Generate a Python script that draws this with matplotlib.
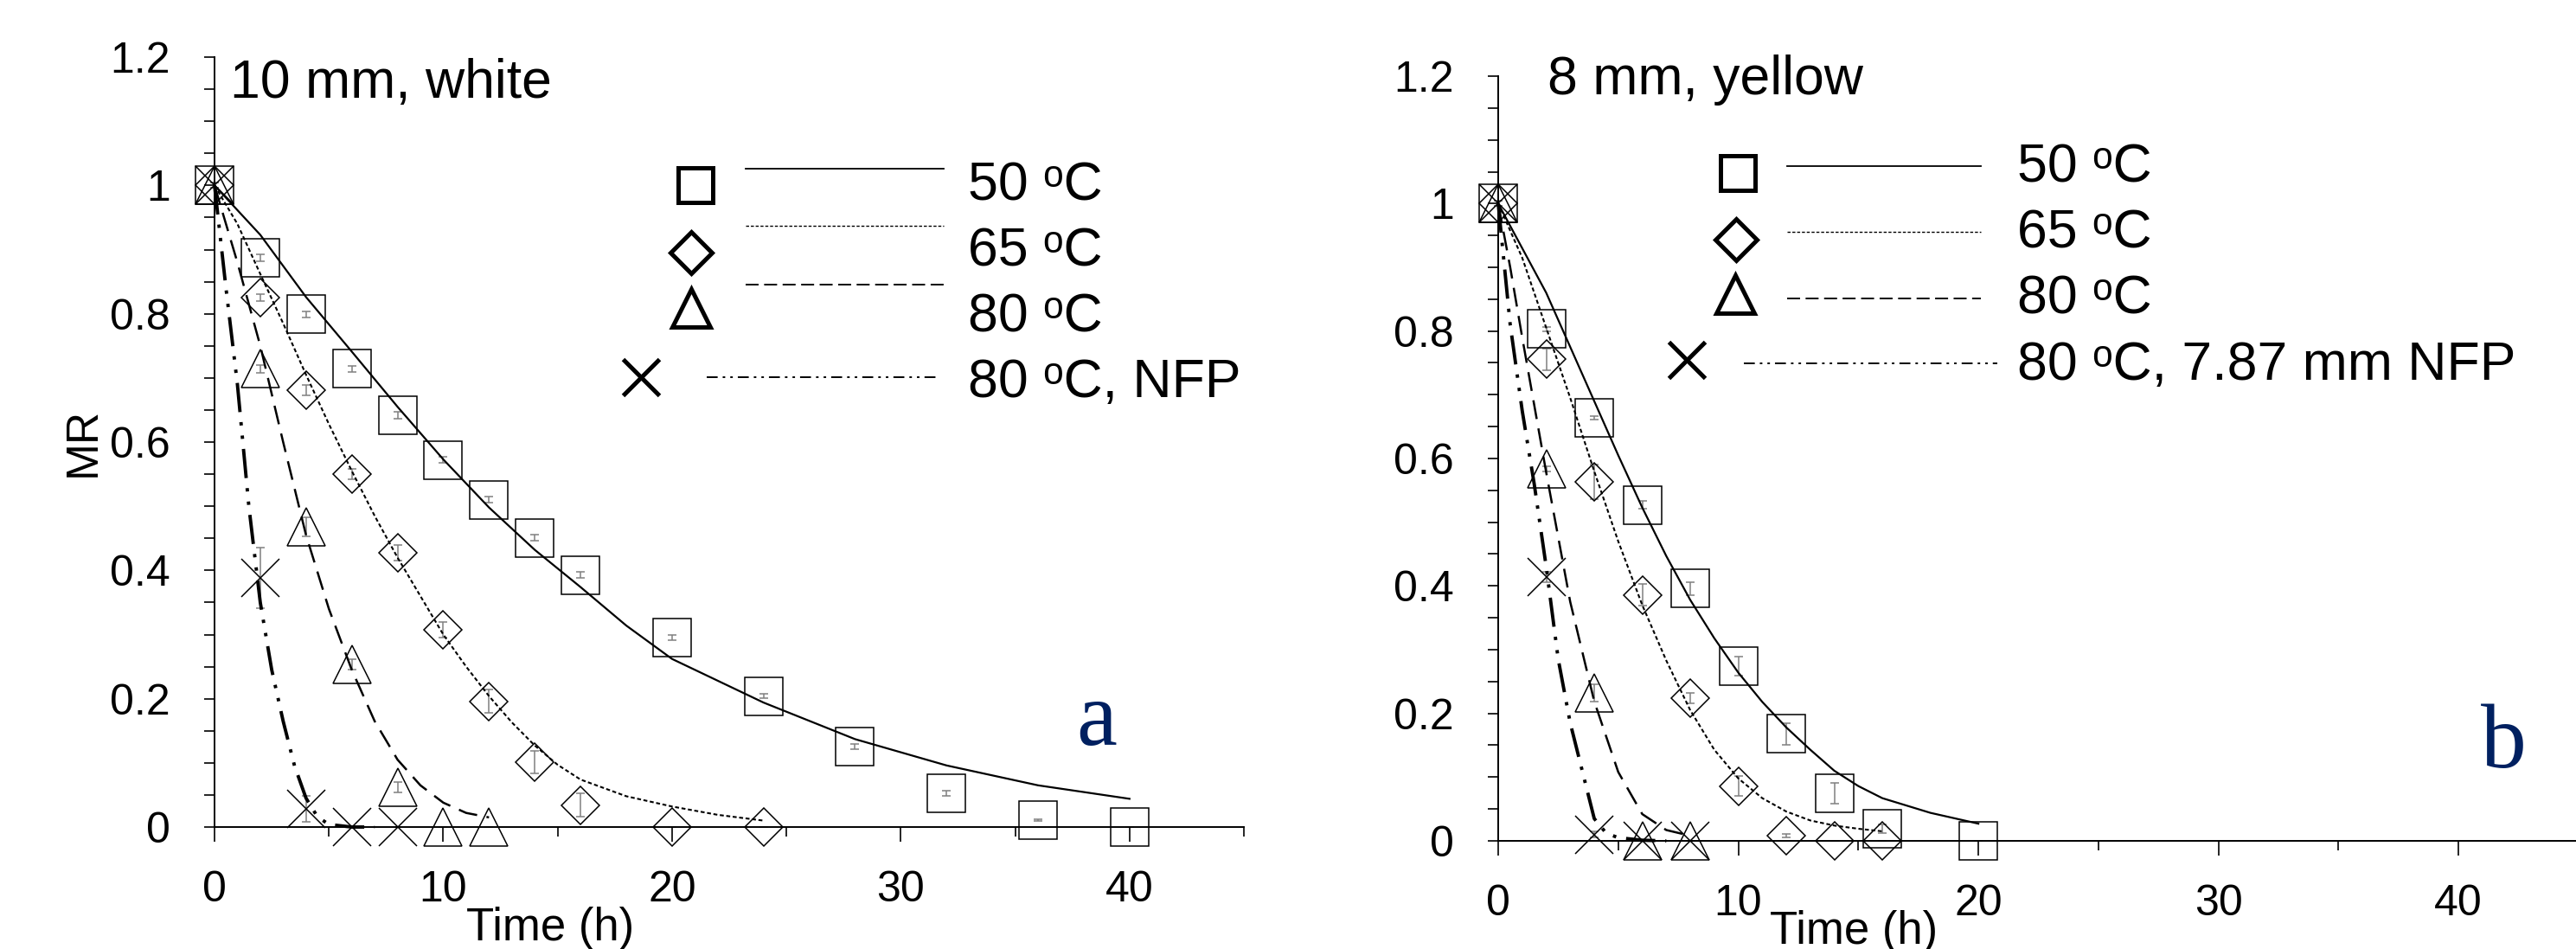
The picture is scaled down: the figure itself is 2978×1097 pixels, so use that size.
import matplotlib
matplotlib.use('Agg')
import matplotlib.pyplot as plt
from matplotlib.lines import Line2D
from matplotlib.legend_handler import HandlerBase
from matplotlib.ticker import MultipleLocator, FuncFormatter

plt.rcParams['font.family'] = ['Liberation Sans', 'DejaVu Sans']

# ---- panel a: 10 mm, white ----
TIME_A_50 = [0, 2, 4, 6, 8, 10, 12, 14, 16, 20, 24, 28, 32, 36, 40]
MR_A_50 = [1.0, 0.887, 0.799, 0.714, 0.642, 0.572, 0.510, 0.451, 0.393, 0.295, 0.204, 0.125, 0.053, 0.011, 0.0]
ERR_A_50 = [0.004, 0.005, 0.005, 0.005, 0.005, 0.005, 0.005, 0.005, 0.005, 0.004, 0.003, 0.004, 0.004, 0.001, 0.0]

TIME_A_65 = [0, 2, 4, 6, 8, 10, 12, 14, 16, 20, 24]
MR_A_65 = [1.0, 0.825, 0.681, 0.550, 0.427, 0.307, 0.196, 0.101, 0.034, 0.0, 0.0]
ERR_A_65 = [0.004, 0.005, 0.008, 0.008, 0.012, 0.012, 0.018, 0.018, 0.018, 0.0, 0.0]

TIME_A_80 = [0, 2, 4, 6, 8, 10, 12]
MR_A_80 = [1.0, 0.714, 0.468, 0.253, 0.062, 0.0, 0.0]
ERR_A_80 = [0.004, 0.006, 0.015, 0.008, 0.008, 0.0, 0.0]

TIME_A_NFP = [0, 2, 4, 6, 8]
MR_A_NFP = [1.0, 0.388, 0.028, 0.0, 0.0]
ERR_A_NFP = [0.004, 0.047, 0.02, 0.0, 0.0]

FIT_TIME_A_50 = [0, 2, 4, 6, 8, 10, 12, 14, 16, 18, 20, 24, 28, 32, 36, 40]
FIT_A_50 = [1.0, 0.923, 0.826, 0.741, 0.655, 0.573, 0.498, 0.432, 0.374, 0.314, 0.262, 0.194, 0.137, 0.096, 0.065, 0.044]
FIT_TIME_A_65 = [0, 1, 2, 3, 4, 5, 6, 7, 8, 9, 10, 11, 12, 13, 14, 15, 16, 18, 20, 22, 24]
FIT_A_65 = [1.0, 0.94, 0.862, 0.785, 0.705, 0.628, 0.555, 0.485, 0.42, 0.36, 0.30, 0.25, 0.204,
            0.163, 0.127, 0.097, 0.074, 0.048, 0.032, 0.019, 0.010]
FIT_TIME_A_80 = [0, 1, 2, 3, 4, 5, 6, 7, 8, 9, 10, 11, 12]
FIT_A_80 = [1.0, 0.88, 0.75, 0.60, 0.455, 0.34, 0.245, 0.165, 0.105, 0.065, 0.038, 0.022, 0.015]
FIT_TIME_A_NFP = [0, 0.25, 0.5, 1, 1.5, 2, 2.5, 3, 3.5, 4, 4.5, 5, 6, 7]
FIT_A_NFP = [1.0, 0.92, 0.84, 0.69, 0.50, 0.35, 0.245, 0.165, 0.095, 0.045, 0.016, 0.004, 0.0, 0.0]

# ---- panel b: 8 mm, yellow ----
TIME_B_50 = [0, 2, 4, 6, 8, 10, 12, 14, 16, 20]
MR_B_50 = [1.0, 0.803, 0.664, 0.527, 0.396, 0.274, 0.168, 0.075, 0.019, 0.0]
ERR_B_50 = [0.004, 0.004, 0.003, 0.006, 0.01, 0.015, 0.017, 0.016, 0.007, 0.0]

TIME_B_65 = [0, 2, 4, 6, 8, 10, 12, 14, 16]
MR_B_65 = [1.0, 0.756, 0.563, 0.386, 0.224, 0.086, 0.008, 0.0, 0.0]
ERR_B_65 = [0.004, 0.017, 0.027, 0.017, 0.008, 0.016, 0.003, 0.0, 0.0]

TIME_B_80 = [0, 2, 4, 6, 8]
MR_B_80 = [1.0, 0.584, 0.232, 0.0, 0.0]
ERR_B_80 = [0.004, 0.004, 0.014, 0.0, 0.0]

TIME_B_NFP = [0, 2, 4, 6, 8]
MR_B_NFP = [1.0, 0.414, 0.010, 0.0, 0.0]
ERR_B_NFP = [0.004, 0.008, 0.005, 0.0, 0.0]

FIT_TIME_B_50 = [0, 1, 2, 3, 4, 5, 6, 7, 8, 9, 10, 11, 12, 13, 14, 15, 16, 18, 20]
FIT_B_50 = [1.0, 0.93, 0.86, 0.775, 0.69, 0.605, 0.523, 0.447, 0.378, 0.318, 0.264, 0.218, 0.178,
            0.143, 0.110, 0.086, 0.067, 0.044, 0.027]
FIT_TIME_B_65 = [0, 1, 2, 3, 4, 5, 6, 7, 8, 9, 10, 11, 12, 13, 14, 15, 16]
FIT_B_65 = [1.0, 0.915, 0.805, 0.695, 0.58, 0.47, 0.37, 0.283, 0.205, 0.143, 0.098, 0.067, 0.046,
            0.032, 0.024, 0.019, 0.015]
FIT_TIME_B_80 = [0, 0.5, 1, 2, 3, 4, 5, 6, 7, 8]
FIT_B_80 = [1.0, 0.90, 0.79, 0.578, 0.375, 0.219, 0.108, 0.042, 0.017, 0.008]
FIT_TIME_B_NFP = [0, 0.5, 1, 1.5, 2, 2.5, 3, 3.5, 4, 4.5, 5, 6, 7]
FIT_B_NFP = [1.0, 0.81, 0.675, 0.56, 0.43, 0.285, 0.185, 0.11, 0.035, 0.012, 0.005, 0.001, 0.0]

LABELS_A = ['50 \u1d52C', '65 \u1d52C', '80 \u1d52C', '80 \u1d52C, NFP']
LABELS_B = ['50 \u1d52C', '65 \u1d52C', '80 \u1d52C', '80 \u1d52C, 7.87 mm NFP']

# marker, marker size in the plot, in the legend
MARKERS = [('s', 32, 28.8), ('D', 22.5, 24.4), ('^', 32, 31), ('x', 32, 30)]
FIT_STYLES = [dict(ls='-', lw=1.6),
              dict(ls=(0, (2.2, 1.4)), lw=1.5),
              dict(ls=(0, (8.8, 4.4)), lw=1.8),
              dict(ls=(0, (8.7, 3, 1, 3, 1, 3)), lw=2.8)]
LEG_STYLES = [dict(ls='-', lw=1.3),
              dict(ls=(0, (2.5, 1.5)), lw=1.0),
              dict(ls=(0, (7.7, 3.3)), lw=1.4),
              dict(ls=(0, (6.5, 3, 1.5, 3, 1.5, 3)), lw=1.4)]


class MarkerThenLine(HandlerBase):
    """marker on the left, line sample on the right (positions in font-size units)"""

    def __init__(self, marker_x, line_x0, line_x1, marker_dy=0.0, line_dy=0.0):
        super().__init__()
        self.marker_x = marker_x
        self.line_x0 = line_x0
        self.line_x1 = line_x1
        self.marker_dy = marker_dy
        self.line_dy = line_dy

    def create_artists(self, legend, orig_handle, xdescent, ydescent, width, height, fontsize, trans):
        marker_proxy, line_proxy = orig_handle
        x0 = -xdescent
        yc = 0.36 * fontsize
        seg = Line2D([x0 + self.line_x0 * fontsize, x0 + self.line_x1 * fontsize],
                     [yc - self.line_dy * fontsize] * 2)
        self.update_prop(seg, line_proxy, legend)
        seg.set_transform(trans)
        mark = Line2D([x0 + self.marker_x * fontsize], [yc - self.marker_dy * fontsize])
        self.update_prop(mark, marker_proxy, legend)
        mark.set_transform(trans)
        return [seg, mark]


def style_axes(ax):
    ax.set_xlim(0, 45)
    ax.set_ylim(0, 1.2)
    ax.spines['top'].set_visible(False)
    ax.spines['right'].set_visible(False)
    ax.spines['left'].set_linewidth(1.4)
    ax.spines['bottom'].set_linewidth(1.4)
    ax.xaxis.set_major_locator(MultipleLocator(10))
    ax.xaxis.set_minor_locator(MultipleLocator(5))
    ax.yaxis.set_major_locator(MultipleLocator(0.2))
    ax.yaxis.set_minor_locator(MultipleLocator(0.05))
    ax.yaxis.set_major_formatter(FuncFormatter(lambda v, p: f'{v:g}'))
    ax.tick_params(axis='y', which='both', direction='out', length=9, width=1.2, pad=28, labelsize=36)
    ax.tick_params(axis='x', which='major', direction='out', length=12, width=1.2, pad=24, labelsize=36)
    ax.tick_params(axis='x', which='minor', direction='out', length=8, width=1.2)


def draw_panel(ax, data, fits):
    for (t, mr, err), (ft, fv), (mk, ms, _), fs in zip(data, fits, MARKERS, FIT_STYLES):
        ax.plot(ft, fv, color='black', clip_on=False, zorder=3, **fs)
        ax.errorbar(t, mr, yerr=err, fmt='none', ecolor='#808080', elinewidth=1.1,
                    capsize=3.6, capthick=1.1, clip_on=False, zorder=2)
        ax.plot(t, mr, ls='none', marker=mk, ms=ms, mfc='none', mec='black', mew=1.1,
                clip_on=False, zorder=4)


def add_legend(ax, labels, anchor, geometry, pad):
    handles = []
    hmap = {}
    for (mk, _, lms), ls, geo in zip(MARKERS, LEG_STYLES, geometry):
        mp = Line2D([], [], ls='none', marker=mk, ms=lms, mfc='none', mec='black', mew=3.6)
        lp = Line2D([], [], color='black', **ls)
        h = (mp, lp)
        handles.append(h)
        hmap[h] = MarkerThenLine(*geo)
    ax.legend(handles, labels, handler_map=hmap, loc='upper left', bbox_to_anchor=anchor,
              frameon=False, handlelength=6.1, handleheight=0.7, handletextpad=pad,
              labelspacing=0.27, borderpad=0, borderaxespad=0, prop={'size': 45})


fig = plt.figure(figsize=(29.78, 10.97), dpi=100)
ax_a = fig.add_axes([0.08328, 0.12853, 0.39960, 0.81130])
ax_b = fig.add_axes([0.58160, 0.11395, 0.41941, 0.80583])

for ax in (ax_a, ax_b):
    style_axes(ax)

draw_panel(ax_a,
           [(TIME_A_50, MR_A_50, ERR_A_50), (TIME_A_65, MR_A_65, ERR_A_65),
            (TIME_A_80, MR_A_80, ERR_A_80), (TIME_A_NFP, MR_A_NFP, ERR_A_NFP)],
           [(FIT_TIME_A_50, FIT_A_50), (FIT_TIME_A_65, FIT_A_65),
            (FIT_TIME_A_80, FIT_A_80), (FIT_TIME_A_NFP, FIT_A_NFP)])
draw_panel(ax_b,
           [(TIME_B_50, MR_B_50, ERR_B_50), (TIME_B_65, MR_B_65, ERR_B_65),
            (TIME_B_80, MR_B_80, ERR_B_80), (TIME_B_NFP, MR_B_NFP, ERR_B_NFP)],
           [(FIT_TIME_B_50, FIT_B_50), (FIT_TIME_B_65, FIT_B_65),
            (FIT_TIME_B_80, FIT_B_80), (FIT_TIME_B_NFP, FIT_B_NFP)])

# legend geometry: marker x, line start, line end, marker dy, line dy (font-size units)
add_legend(ax_a, LABELS_A, (0.393, 0.866),
           [(1.41, 2.34, 6.0, 0.08, -0.22), (1.34, 2.34, 6.0, 0.11, -0.38),
            (1.33, 2.34, 6.0, -0.08, -0.5), (0.4, 1.62, 5.87, 0.0, 0.0)], 0.35)
add_legend(ax_b, LABELS_B, (0.1545, 0.913),
           [(1.34, 2.26, 5.84, 0.19, 0.05), (1.31, 2.26, 5.84, 0.21, 0.06),
            (1.3, 2.26, 5.84, 0.0, 0.08), (0.4, 1.46, 6.14, 0.0, 0.06)], 0.42)

ax_a.text(0.68, 1.137, '10 mm, white', fontsize=45, va='baseline')
ax_b.text(2.05, 1.171, '8 mm, yellow', fontsize=45, va='baseline')
ax_a.text(37.67, 0.128, 'a', fontsize=76, color='#002060', family='Liberation Serif', va='baseline')
ax_b.text(40.92, 0.115, 'b', fontsize=76, color='#002060', family='Liberation Serif', va='baseline')

ax_a.set_ylabel('MR', fontsize=37)
ax_a.yaxis.set_label_coords(-0.107, 0.5)
ax_a.set_xlabel('Time (h)', fontsize=38)
ax_a.xaxis.set_label_coords(0.326, -0.103)
ax_b.set_xlabel('Time (h)', fontsize=38)
ax_b.xaxis.set_label_coords(0.329, -0.090)

fig.savefig('out.png', dpi=100)
